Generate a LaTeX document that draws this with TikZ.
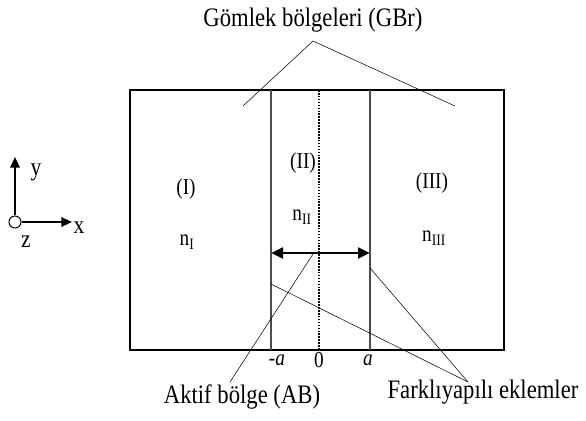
\documentclass[tikz,border=0pt]{standalone}
\usepackage{fontspec}
\usepackage{graphicx}
\setmainfont{Liberation Serif}
\usetikzlibrary{arrows.meta}
\newcommand{\nar}[1]{\scalebox{0.85}[1]{#1}}
\tikzset{
  lbl/.style={inner sep=0pt, font=\fontsize{17}{20}\selectfont},
  axl/.style={inner sep=0pt, font=\fontsize{19}{22}\selectfont},
  note/.style={inner sep=0pt, font=\fontsize{20}{24}\selectfont},
  wall/.style={black!70, line width=0.8pt},
  dbl/.style={{Triangle[length=9pt,width=8pt]}-{Triangle[length=9pt,width=8pt]}, line width=2.2pt},
  ax/.style={-{Triangle[length=8pt,width=7pt]}, line width=1.5pt},
}
\begin{document}
\begin{tikzpicture}[x=0.75pt,y=-0.75pt]
  \useasboundingbox (0,0) rectangle (586,421);
  % layers
  \draw[line width=0.8pt] (130,90) rectangle (504,350);
  \draw[wall] (271,90) -- (271,350);
  \draw[wall] (370,90) -- (370,350);
  \draw[densely dotted, line width=1.2pt] (319,90) -- (319,350);
  \coordinate (wL) at (271,253);
  \coordinate (wR) at (370,253);
  \draw[dbl] (wL) -- (wR);
  \node[lbl] (r1) at (186,189) {\nar{(I)}};
  \node[lbl] (n1) at (187,242) {\nar{n\textsubscript{I}}};
  \node[lbl] (r2) at (303,163) {\nar{(II)}};
  \node[lbl] (n2) at (302,217) {\nar{n\textsubscript{II}}};
  \node[lbl] (r3) at (432,183) {\nar{(III)}};
  \node[lbl] (n3) at (434,238) {\nar{n\textsubscript{III}}};
  \node[lbl] (ma) at (277,360) {\nar{-\textit{a}}};
  \node[lbl] (zr) at (319,360) {\nar{0}};
  \node[lbl] (pa) at (368,360) {\nar{\textit{a}}};
  % axes
  \node[circle, draw, fill=white, inner sep=0pt, minimum size=9pt, line width=0.8pt] (org) at (15,222) {};
  \coordinate (yTip) at (15,157);
  \coordinate (xTip) at (72,222);
  \draw[ax] (org) -- (yTip);
  \draw[ax] (org) -- (xTip);
  \node[axl] (yl) at (36,172) {\nar{y}};
  \node[axl] (xl) at (79,228) {\nar{x}};
  \node[axl] (zl) at (26,242) {\nar{z}};
  % annotations
  \node[note] (gbr) at (313,20) {\nar{Gömlek bölgeleri (GBr)}};
  \coordinate (gbTop) at (313,41);
  \coordinate (gbL) at (243,106);
  \coordinate (gbR) at (455,106);
  \draw (gbTop) -- (gbL);
  \draw (gbTop) -- (gbR);
  \node[note] (ab) at (242,397) {\nar{Aktif bölge (AB)}};
  \coordinate (abTop) at (230,382);
  \coordinate (abEnd) at (313,254);
  \draw (abTop) -- (abEnd);
  \node[note] (he) at (483,392) {\nar{Farklıyapılı eklemler}};
  \coordinate (heTop) at (468,382);
  \coordinate (heL) at (271,284);
  \coordinate (heR) at (370,268);
  \draw (heTop) -- (heL);
  \draw (heTop) -- (heR);
\end{tikzpicture}
\end{document}
